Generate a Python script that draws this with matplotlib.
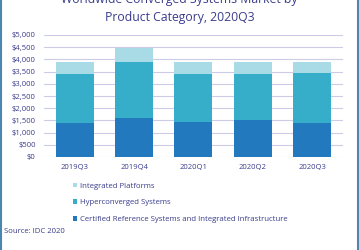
import matplotlib.pyplot as plt
from matplotlib.lines import Line2D

quarters = ['2019Q3', '2019Q4', '2020Q1', '2020Q2', '2020Q3']
crs = [1380, 1600, 1450, 1515, 1405]
hyper = [2035, 2280, 1965, 1875, 2050]
integrated = [465, 600, 465, 515, 425]

labels = ['Certified Reference Systems and Integrated Infrastructure',
          'Hyperconverged Systems', 'Integrated Platforms']
colors = ['#2279bd', '#36aec9', '#a8dbe6']
txt = '#3a3d8c'

plt.rcParams['font.family'] = ['Open Sans', 'DejaVu Sans']

fig = plt.figure(figsize=(3.59, 2.5), dpi=100)
ax = fig.add_axes([0.1226, 0.372, 0.8324, 0.488])

x = range(len(quarters))
b1 = ax.bar(x, crs, width=0.64, color=colors[0], zorder=3)
b2 = ax.bar(x, hyper, width=0.64, bottom=crs, color=colors[1], zorder=3)
bot = [a + b for a, b in zip(crs, hyper)]
b3 = ax.bar(x, integrated, width=0.64, bottom=bot, color=colors[2], zorder=3)

ax.set_ylim(0, 5000)
ax.set_xlim(-0.52, 4.52)
ax.set_yticks(range(0, 5001, 500))
ax.set_yticklabels(['$' + format(v, ',') for v in range(0, 5001, 500)])
ax.set_xticks(list(x))
ax.set_xticklabels(quarters)
ax.tick_params(length=0, labelsize=5.5, colors=txt, pad=6)
ax.tick_params(axis='x', pad=5)
ax.grid(axis='y', color='#cccbe8', linewidth=0.8, zorder=0)
for s in ax.spines.values():
    s.set_visible(False)

# title: first line runs off the top edge as in the original
fig.text(0.5, 1.0, 'Worldwide Converged Systems Market by',
         ha='center', va='center', fontsize=8.8, color=txt)
fig.text(0.5, 0.93, 'Product Category, 2020Q3',
         ha='center', va='center', fontsize=8.8, color=txt)

handles = [b3, b2, b1]
leg = fig.legend(handles, labels[::-1], loc='upper left',
                 bbox_to_anchor=(0.203, 0.27), frameon=False,
                 fontsize=5.6, handlelength=0.55, handleheight=0.55,
                 handletextpad=0.35, labelspacing=1.25, borderaxespad=0,
                 borderpad=0)
for t in leg.get_texts():
    t.set_color(txt)

fig.text(0.012, 0.074, 'Source: IDC 2020', ha='left', va='center',
         fontsize=5.6, color=txt)

# side frame lines
fig.add_artist(Line2D([0.002, 0.002], [0, 1], color='#4a86b0', lw=1.5))
fig.add_artist(Line2D([0.996, 0.996], [0, 1], color='#4a86b0', lw=1.5))

fig.savefig('out.png', dpi=100)
